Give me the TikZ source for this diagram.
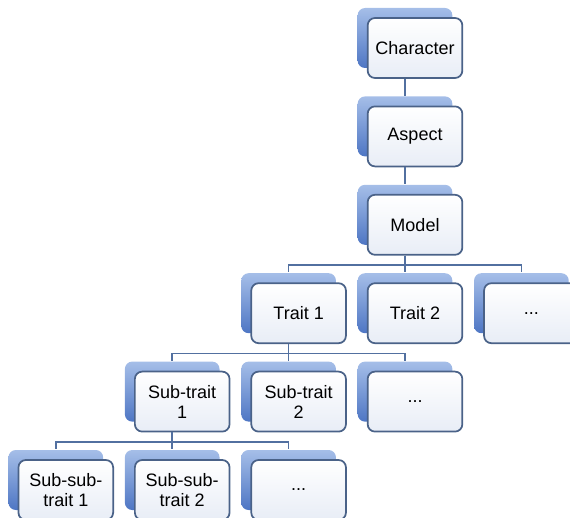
\documentclass[tikz,border=0pt]{standalone}
\usepackage{fontspec}
\setmainfont{Liberation Sans}
\usetikzlibrary{positioning,shadows}

\definecolor{boxline}{RGB}{74,98,136}
\definecolor{boxbot}{RGB}{232,237,246}
\definecolor{shadetop}{RGB}{165,190,232}
\definecolor{shadebot}{RGB}{78,118,196}
\definecolor{linkline}{RGB}{82,112,160}

\tikzset{
  box/.style={draw=boxline, line width=1.3pt, rounded corners=5.5pt,
    top color=white, bottom color=boxbot,
    minimum width=71pt, minimum height=45pt, align=center,
    font=\fontsize{13.5}{15}\selectfont,
    general shadow={shadow xshift=-7.5pt, shadow yshift=7.5pt,
      top color=shadetop, bottom color=shadebot, draw=none}},
  link/.style={draw=linkline, line width=1.2pt}
}

\begin{document}
\begin{tikzpicture}[x=0.75pt, y=-0.75pt, node distance=20pt and 15pt]
  \useasboundingbox (0,0) rectangle (570,517);

  \node (char) [box] at (415,48) {Character};
  \node (aspect) [box, below=of char] {Aspect};
  \node (model) [box, below=of aspect] {Model};
  \node (trait2) [box, below=of model] {Trait 2};
  \node (trait1) [box, left=of trait2] {Trait 1};
  \node (traitx) [box, right=of trait2] {...};
  \node (sub2) [box, below=of trait1] {Sub-trait\\2};
  \node (sub1) [box, left=of sub2] {Sub-trait\\1};
  \node (subx) [box, right=of sub2] {...};
  \node (subsub2) [box, below=of sub1] {Sub-sub-\\trait 2};
  \node (subsub1) [box, left=of subsub2] {Sub-sub-\\trait 1};
  \node (subsubx) [box, right=of subsub2] {...};

  \draw[link] ([xshift=-7.5pt]char.south) -- ([xshift=-7.5pt, yshift=7.5pt]aspect.north);
  \draw[link] ([xshift=-7.5pt]aspect.south) -- ([xshift=-7.5pt, yshift=7.5pt]model.north);

  \draw[link] ([xshift=-7.5pt]model.south) -- ++(0,-7pt) -| ([xshift=-7.5pt, yshift=7.5pt]trait1.north);
  \draw[link] ([xshift=-7.5pt]model.south) -- ([xshift=-7.5pt, yshift=7.5pt]trait2.north);
  \draw[link] ([xshift=-7.5pt]model.south) -- ++(0,-7pt) -| ([xshift=-7.5pt, yshift=7.5pt]traitx.north);

  \draw[link] ([xshift=-7.5pt]trait1.south) -- ++(0,-7pt) -| ([xshift=-7.5pt, yshift=7.5pt]sub1.north);
  \draw[link] ([xshift=-7.5pt]trait1.south) -- ([xshift=-7.5pt, yshift=7.5pt]sub2.north);
  \draw[link] ([xshift=-7.5pt]trait1.south) -- ++(0,-7pt) -| ([xshift=-7.5pt, yshift=7.5pt]subx.north);

  \draw[link] ([xshift=-7.5pt]sub1.south) -- ++(0,-7pt) -| ([xshift=-7.5pt, yshift=7.5pt]subsub1.north);
  \draw[link] ([xshift=-7.5pt]sub1.south) -- ([xshift=-7.5pt, yshift=7.5pt]subsub2.north);
  \draw[link] ([xshift=-7.5pt]sub1.south) -- ++(0,-7pt) -| ([xshift=-7.5pt, yshift=7.5pt]subsubx.north);

\end{tikzpicture}
\end{document}
